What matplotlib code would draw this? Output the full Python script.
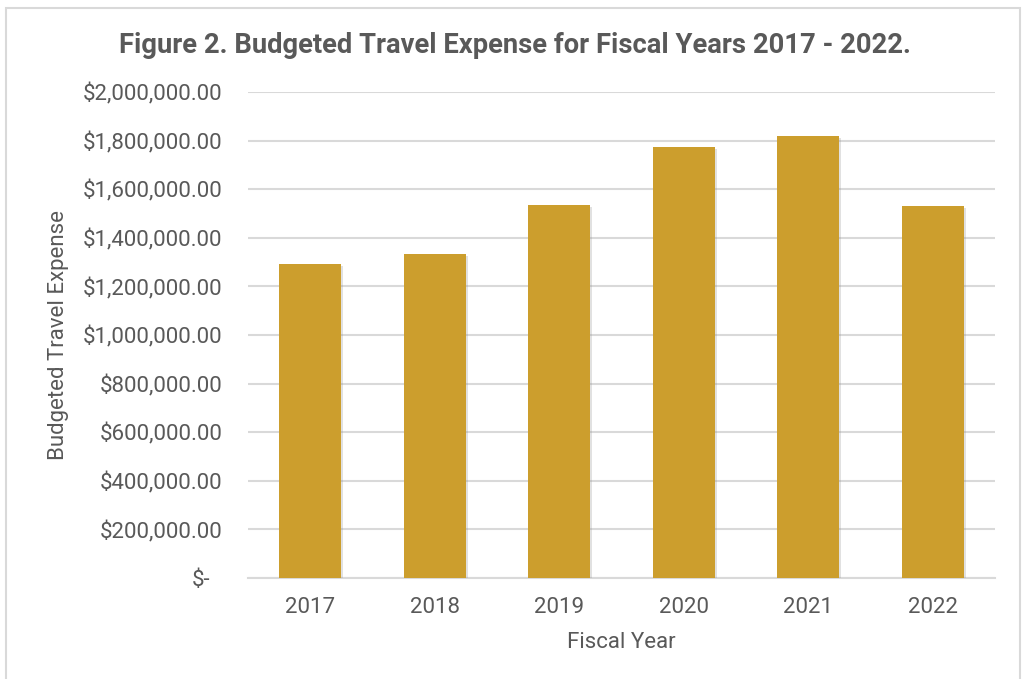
import matplotlib.pyplot as plt
import matplotlib.patheffects as pe
import matplotlib.transforms as mtransforms
from matplotlib.patches import Rectangle

plt.rcParams['font.family'] = ['Roboto', 'DejaVu Sans']

# budgeted travel expense by fiscal year
years = ['2017', '2018', '2019', '2020', '2021', '2022']
expense = [1294000, 1335000, 1535000, 1772000, 1818000, 1531000]

y_ticks = [0, 200000, 400000, 600000, 800000, 1000000,
           1200000, 1400000, 1600000, 1800000, 2000000]

bar_color = '#CC9E2D'
text_gray = '#595959'
grid_gray = '#D9D9D9'

fig = plt.figure(figsize=(10.26, 6.79), dpi=100)
ax = fig.add_axes([0.2417, 0.1487, 0.728, 0.7158])

bars = ax.bar(range(len(years)), expense, width=0.5, color=bar_color, zorder=3)
for b in bars:
    b.set_path_effects([pe.SimplePatchShadow(offset=(1.5, -1.5), shadow_rgbFace='#8a8a8a', alpha=0.25),
                        pe.Normal()])

ax.set_xlim(-0.5, len(years) - 0.5)
ax.set_ylim(0, 2000000)
ax.set_yticks(y_ticks)
ax.set_yticklabels(['$-'] + ['${:,.2f}'.format(v) for v in y_ticks[1:]])
ax.set_xticks(range(len(years)))
ax.set_xticklabels(years)

ax.grid(axis='y', color=grid_gray, linewidth=1.5, zorder=0)
ax.set_axisbelow(True)
for s in ['top', 'right', 'left']:
    ax.spines[s].set_visible(False)
ax.spines['bottom'].set_color(grid_gray)
ax.spines['bottom'].set_linewidth(1.5)

ax.tick_params(axis='both', length=0, labelsize=16, labelcolor=text_gray)
ax.tick_params(axis='y', pad=18.5)
ax.tick_params(axis='x', pad=14)

# accounting-style dash sits left of the column of decimals
zero_lbl = ax.get_yticklabels()[0]
zero_lbl.set_transform(zero_lbl.get_transform() +
                       mtransforms.ScaledTranslation(-12 / 100, 0, fig.dpi_scale_trans))

ax.set_ylabel('Budgeted Travel Expense', fontsize=16, color=text_gray)
ax.yaxis.set_label_coords(-0.24, 0.5)
ax.set_xlabel('Fiscal Year', fontsize=16, color=text_gray, labelpad=10)

fig.text(0.502, 0.933, 'Figure 2. Budgeted Travel Expense for Fiscal Years 2017 - 2022.',
         ha='center', va='center', fontsize=19.7, fontweight='bold', color=text_gray)

# light frame round the chart
fig.patches.append(Rectangle((0.006, -0.01), 0.988, 0.998, transform=fig.transFigure,
                             fill=False, edgecolor='#D9D9D9', linewidth=1.5))

fig.savefig('out.png', dpi=100)
